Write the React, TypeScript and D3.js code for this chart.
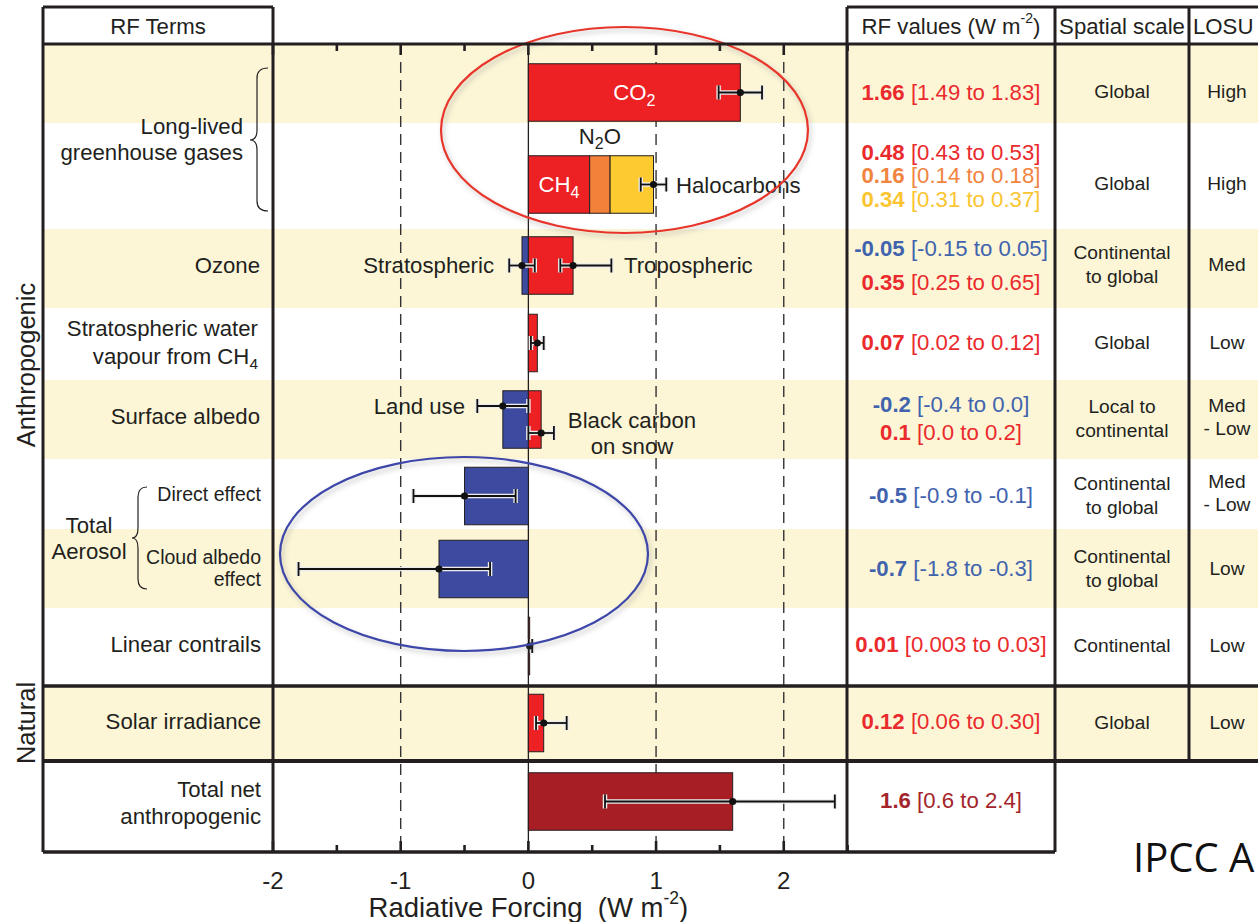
import React from "react";
import * as d3 from "d3";

// ---- Data -----------------------------------------------------------------
// Radiative forcing terms (W m-2): best estimate and 90% range, kept as the
// strings that are printed in the value column so bars and text share them.
const termKeys = [
  "co2", "ch4", "n2o", "halocarbons", "stratO3", "tropO3", "stratH2O",
  "landUse", "blackCarbon", "aerosolDirect", "cloudAlbedo", "contrails",
  "solar", "netAnthropogenic",
];
const rfBest = ["1.66", "0.48", "0.16", "0.34", "-0.05", "0.35", "0.07", "-0.2", "0.1", "-0.5", "-0.7", "0.01", "0.12", "1.6"];
const rfLow = ["1.49", "0.43", "0.14", "0.31", "-0.15", "0.25", "0.02", "-0.4", "0.0", "-0.9", "-1.8", "0.003", "0.06", "0.6"];
const rfHigh = ["1.83", "0.53", "0.18", "0.37", "0.05", "0.65", "0.12", "0.0", "0.2", "-0.1", "-0.3", "0.03", "0.30", "2.4"];
// table row each term belongs to
const termRow = [0, 1, 1, 1, 2, 2, 3, 4, 4, 5, 6, 7, 8, 9];
const termColour = ["red", "red", "orange", "yellow", "blue", "red", "red", "blue", "red", "blue", "blue", "red", "red", "darkred"];
// CH4, N2O and halocarbons are stacked into one bar with a combined range
const stackedTerms = [1, 2, 3];

const spatialScale = [
  ["Global"], ["Global"], ["Continental", "to global"], ["Global"],
  ["Local to", "continental"], ["Continental", "to global"],
  ["Continental", "to global"], ["Continental"], ["Global"],
];
const losu = [
  ["High"], ["High"], ["Med"], ["Low"], ["Med", "- Low"], ["Med", "- Low"],
  ["Low"], ["Low"], ["Low"],
];
const axisTicks = [-2, -1.5, -1, -0.5, 0, 0.5, 1, 1.5, 2, 2.5];
const axisLabels = [-2, -1, 0, 1, 2];
const dashedAt = [-1, 1, 2];

// ---- Layout & style -------------------------------------------------------
const W = 1258;
const H = 922;
const rowEdges = [44, 123, 229, 308, 380, 459, 529, 608, 686, 761, 852];
const barCentre = [92.5, 184.5, 265.5, 343, 419.5, 496, 569, 646, 723, 801.5];
const valueLineY = [92, 152, 175, 199, 248, 282, 342, 404, 432, 495, 568, 644, 721, 800];
const errOffset: Record<string, number> = { landUse: -13.5, blackCarbon: 13.5 };
const BAR_H = 57.5;
const colTerms = [43, 273];
const colValues = [847, 1055];
const colSpatial = [1055, 1189];
const colLosu = [1189, 1270];

const palette: Record<string, string> = {
  red: "#ED2024",
  orange: "#F3813A",
  yellow: "#FDCB30",
  blue: "#3C4B9F",
  darkred: "#A71E24",
};
const textPalette: Record<string, string> = {
  red: "#EA2A2C",
  orange: "#F1843F",
  yellow: "#FBC531",
  blue: "#4163AD",
  darkred: "#A3252B",
};
const INK = "#231F20";
const BAND = "#FCF6D7";
const FONT = "'Liberation Sans', Arial, Helvetica, sans-serif";
const LABEL = 22.2;
const SMALL = 19.5;

const x = d3.scaleLinear().domain([-2, 2.5]).range([273, 847.6]);

const best = rfBest.map(Number);
const low = rfLow.map(Number);
const high = rfHigh.map(Number);

// bar start positions: stacked terms accumulate, others start at zero
const stackStarts = [0, ...Array.from(d3.cumsum(stackedTerms.map((i) => best[i])))];
const barStart = best.map((_, i) => {
  const k = stackedTerms.indexOf(i);
  return k >= 0 ? stackStarts[k] : 0;
});

type ErrBar = { key: string; row: number; b: number; lo: number; hi: number };
const errorBars: ErrBar[] = [];
best.forEach((v, i) => {
  if (stackedTerms.includes(i)) return;
  errorBars.push({ key: termKeys[i], row: termRow[i], b: v, lo: low[i], hi: high[i] });
});
errorBars.splice(1, 0, {
  key: "stack",
  row: termRow[stackedTerms[0]],
  b: d3.sum(stackedTerms, (i) => best[i]),
  lo: d3.sum(stackedTerms, (i) => low[i]),
  hi: d3.sum(stackedTerms, (i) => high[i]),
});

function Brace({ x0, xa, tip, top, mid, bottom }: { x0: number; xa: number; tip: number; top: number; mid: number; bottom: number }) {
  const r = 10;
  const d = `M${x0},${top} Q${xa},${top} ${xa},${top + r} L${xa},${mid - r} Q${xa},${mid} ${tip},${mid} Q${xa},${mid} ${xa},${mid + r} L${xa},${bottom - r} Q${xa},${bottom} ${x0},${bottom}`;
  return <path d={d} fill="none" stroke={INK} strokeWidth={1.2} />;
}

function Lines({ lines, cx, cy, gap, size, anchor = "middle" }: { lines: string[]; cx: number; cy: number; gap: number; size: number; anchor?: string }) {
  const n = lines.length;
  return (
    <>
      {lines.map((t, k) => (
        <text key={k} x={cx} y={cy + (k - (n - 1) / 2) * gap} fontSize={size} textAnchor={anchor} dominantBaseline="central" fill={INK}>
          {t}
        </text>
      ))}
    </>
  );
}

export default function App() {
  const yTop = rowEdges[0];
  const yBottom = rowEdges[rowEdges.length - 1];
  return (
    <svg width={W} height={H} style={{ position: "absolute", left: 0, top: 0, background: "#fff" }} fontFamily={FONT}>
      <defs>
        <filter id="softShadow" x="-10%" y="-10%" width="120%" height="130%">
          <feDropShadow dx="2" dy="3" stdDeviation="2.5" floodColor="#777" floodOpacity="0.45" />
        </filter>
      </defs>

      {/* alternating row bands */}
      {rowEdges.slice(0, -1).map((y0, r) =>
        r % 2 === 0 ? (
          <rect key={r} x={colTerms[0]} y={y0} width={W - colTerms[0]} height={rowEdges[r + 1] - y0} fill={BAND} />
        ) : null
      )}

      {/* dashed reference lines and zero line */}
      {dashedAt.map((v) => (
        <line key={v} x1={x(v)} x2={x(v)} y1={yTop} y2={yBottom} stroke="#333" strokeWidth={1.4} strokeDasharray="11 7" />
      ))}
      <line x1={x(0)} x2={x(0)} y1={yTop} y2={yBottom} stroke={INK} strokeWidth={1.3} />

      {/* axis ticks top and bottom */}
      {axisTicks.map((v) => {
        const major = Number.isInteger(v);
        const len = major ? 11 : 7;
        return (
          <g key={v}>
            <line x1={x(v)} x2={x(v)} y1={yTop} y2={yTop + len} stroke={INK} strokeWidth={2.6} />
            <line x1={x(v)} x2={x(v)} y1={yBottom} y2={yBottom - len} stroke={INK} strokeWidth={2.6} />
          </g>
        );
      })}

      {/* bars */}
      {best.map((v, i) => {
        const s = barStart[i];
        const a = x(Math.min(s, s + v));
        const b = x(Math.max(s, s + v));
        const cy = barCentre[termRow[i]];
        return (
          <rect key={termKeys[i]} x={a} y={cy - BAR_H / 2} width={Math.max(b - a, 0.8)} height={BAR_H}
            fill={palette[termColour[i]]} stroke={INK} strokeWidth={1} />
        );
      })}

      {/* uncertainty ranges */}
      {errorBars.map((e) => {
        const cy = barCentre[e.row] + (errOffset[e.key] || 0);
        const x1 = x(e.lo);
        const x2 = x(e.hi);
        const cap = 7;
        return (
          <g key={e.key}>
            <g stroke="#ececec" strokeWidth={4.5}>
              <line x1={x1} x2={x2} y1={cy} y2={cy} />
              <line x1={x1} x2={x1} y1={cy - cap} y2={cy + cap} />
              <line x1={x2} x2={x2} y1={cy - cap} y2={cy + cap} />
            </g>
            <g stroke="#111" strokeWidth={1.8}>
              <line x1={x1} x2={x2} y1={cy} y2={cy} />
              <line x1={x1} x2={x1} y1={cy - cap} y2={cy + cap} />
              <line x1={x2} x2={x2} y1={cy - cap} y2={cy + cap} />
            </g>
            <circle cx={x(e.b)} cy={cy} r={3.6} fill="#111" />
          </g>
        );
      })}

      {/* labels on and beside bars */}
      <g fontSize={LABEL} dominantBaseline="central">
        <text x={(x(0) + x(best[0])) / 2} y={barCentre[0]} fill="#fff" textAnchor="middle">
          CO<tspan dy={7} fontSize={16}>2</tspan>
        </text>
        <text x={(x(barStart[1]) + x(barStart[1] + best[1])) / 2} y={barCentre[1]} fill="#fff" textAnchor="middle">
          CH<tspan dy={7} fontSize={16}>4</tspan>
        </text>
        <text x={(x(barStart[2]) + x(barStart[2] + best[2])) / 2} y={136} fill={INK} textAnchor="middle">
          N<tspan dy={7} fontSize={16}>2</tspan><tspan dy={-7}>O</tspan>
        </text>
        <text x={676} y={185} fill={INK}>Halocarbons</text>
        <text x={494} y={265} fill={INK} textAnchor="end">Stratospheric</text>
        <text x={624} y={265} fill={INK}>Tropospheric</text>
        <text x={465} y={406} fill={INK} textAnchor="end">Land use</text>
        <text x={632} y={420} fill={INK} textAnchor="middle">Black carbon</text>
        <text x={632} y={446} fill={INK} textAnchor="middle">on snow</text>
      </g>

      {/* highlight ellipses */}
      <ellipse cx={624.5} cy={130} rx={183.5} ry={103} fill="none" stroke="#E8352C" strokeWidth={2.2} filter="url(#softShadow)" />
      <ellipse cx={464} cy={554} rx={184} ry={97} fill="none" stroke="#3D47A9" strokeWidth={2.2} filter="url(#softShadow)" />

      {/* RF terms column */}
      <g fill={INK}>
        <Lines lines={["Long-lived", "greenhouse gases"]} cx={243} cy={139} gap={26} size={LABEL} anchor="end" />
        <Brace x0={268} xa={257} tip={250} top={68} mid={140} bottom={211} />
        <Lines lines={["Ozone"]} cx={260} cy={265} gap={0} size={LABEL} anchor="end" />
        <text x={258} y={328} fontSize={LABEL} textAnchor="end" dominantBaseline="central">Stratospheric water</text>
        <text x={258} y={356} fontSize={LABEL} textAnchor="end" dominantBaseline="central">
          vapour from CH<tspan dy={7} fontSize={15.5}>4</tspan>
        </text>
        <Lines lines={["Surface albedo"]} cx={260} cy={416} gap={0} size={LABEL} anchor="end" />
        <Lines lines={["Direct effect"]} cx={261} cy={494} gap={0} size={SMALL} anchor="end" />
        <Lines lines={["Cloud albedo", "effect"]} cx={261} cy={568} gap={22} size={SMALL} anchor="end" />
        <Lines lines={["Total", "Aerosol"]} cx={89} cy={538} gap={26} size={LABEL} />
        <Brace x0={147} xa={138} tip={132} top={487} mid={538} bottom={589} />
        <Lines lines={["Linear contrails"]} cx={261} cy={644} gap={0} size={LABEL} anchor="end" />
        <Lines lines={["Solar irradiance"]} cx={261} cy={721} gap={0} size={LABEL} anchor="end" />
        <Lines lines={["Total net", "anthropogenic"]} cx={261} cy={803} gap={27} size={LABEL} anchor="end" />
      </g>

      {/* group labels */}
      <text transform="translate(26,365) rotate(-90)" fontSize={25.5} textAnchor="middle" dominantBaseline="central" fill={INK}>Anthropogenic</text>
      <text transform="translate(26,723) rotate(-90)" fontSize={25.5} textAnchor="middle" dominantBaseline="central" fill={INK}>Natural</text>

      {/* value column */}
      {best.map((_, i) => (
        <text key={termKeys[i]} x={(colValues[0] + colValues[1]) / 2} y={valueLineY[i]} fontSize={22.2}
          textAnchor="middle" dominantBaseline="central" fill={textPalette[termColour[i]]}>
          <tspan fontWeight="bold">{rfBest[i]}</tspan> [{rfLow[i]} to {rfHigh[i]}]
        </text>
      ))}

      {/* spatial scale and LOSU */}
      {spatialScale.map((lines, r) => (
        <Lines key={r} lines={lines} cx={(colSpatial[0] + colSpatial[1]) / 2} cy={barCentre[r] - 1} gap={24} size={19.2} />
      ))}
      {losu.map((lines, r) => (
        <Lines key={r} lines={lines} cx={1227} cy={barCentre[r] - (lines.length > 1 ? 3 : 1)} gap={23} size={19.2} />
      ))}

      {/* header */}
      <g fontSize={LABEL} fill={INK} dominantBaseline="central" textAnchor="middle">
        <text x={(colTerms[0] + colTerms[1]) / 2} y={26}>RF Terms</text>
        <text x={(colValues[0] + colValues[1]) / 2} y={26}>
          RF values (W m<tspan dy={-8} fontSize={14}>-2</tspan><tspan dy={8}>)</tspan>
        </text>
        <text x={(colSpatial[0] + colSpatial[1]) / 2} y={26}>Spatial scale</text>
        <text x={1193} y={26} textAnchor="start">LOSU</text>
      </g>

      {/* table rules */}
      <g stroke={INK} fill="none">
        <line x1={colTerms[0]} x2={colTerms[1]} y1={7} y2={7} strokeWidth={3} />
        <line x1={colValues[0]} x2={W} y1={7} y2={7} strokeWidth={3} />
        <line x1={colTerms[0]} x2={W} y1={yTop} y2={yTop} strokeWidth={3} />
        <line x1={colTerms[0]} x2={W} y1={rowEdges[8]} y2={rowEdges[8]} strokeWidth={3.5} />
        <line x1={colTerms[0]} x2={W} y1={rowEdges[9]} y2={rowEdges[9]} strokeWidth={4} />
        <line x1={colTerms[0]} x2={colValues[1]} y1={yBottom} y2={yBottom} strokeWidth={3.5} />
        <line x1={colTerms[0]} x2={colTerms[0]} y1={7} y2={yBottom} strokeWidth={3} />
        <line x1={colTerms[1]} x2={colTerms[1]} y1={7} y2={yBottom} strokeWidth={3} />
        <line x1={colValues[0]} x2={colValues[0]} y1={7} y2={yBottom} strokeWidth={3} />
        <line x1={colValues[1]} x2={colValues[1]} y1={7} y2={yBottom} strokeWidth={3} />
        <line x1={colLosu[0]} x2={colLosu[0]} y1={7} y2={rowEdges[9]} strokeWidth={3} />
      </g>

      {/* x axis labels */}
      <g fontSize={24} fill={INK} textAnchor="middle" dominantBaseline="central">
        {axisLabels.map((v) => (
          <text key={v} x={x(v)} y={880}>{v}</text>
        ))}
      </g>
      <text x={x(0)} y={907} fontSize={27.5} textAnchor="middle" dominantBaseline="central" fill={INK} xmlSpace="preserve">
        Radiative Forcing{"  "}(W m<tspan dy={-9} fontSize={17.5}>-2</tspan><tspan dy={9}>)</tspan>
      </text>

      <text x={1133} y={856} fontSize={40} fill="#111" dominantBaseline="central" fontFamily="'Open Sans', sans-serif">IPCC A</text>
    </svg>
  );
}
